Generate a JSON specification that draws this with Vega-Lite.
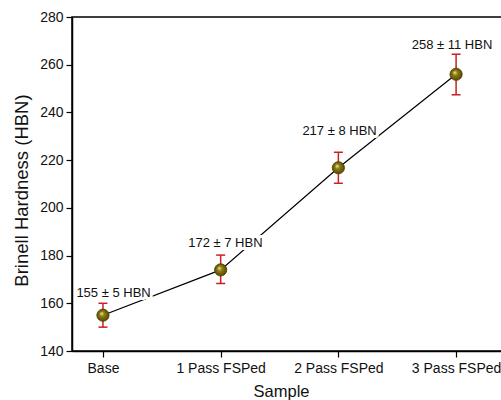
{
  "$schema": "https://vega.github.io/schema/vega-lite/v6.json",
  "width": 430,
  "height": 334,
  "autosize": {"type": "none"},
  "padding": {"left": 72, "top": 17, "right": 0, "bottom": 49},
  "background": "white",
  "config": {
    "font": "Liberation Sans",
    "view": {"stroke": "black", "strokeWidth": 1.5},
    "axis": {"domainColor": "black", "domainWidth": 1.5, "tickColor": "black", "tickWidth": 1.2, "tickSize": 6, "grid": false, "labelColor": "#111", "titleColor": "#111", "labelFont": "Liberation Sans", "titleFont": "Liberation Sans", "titleFontWeight": "normal"}
  },
  "data": {
    "values": [
      {"idx": 0, "sample": "Base", "mean": 155, "lo": 150, "hi": 160, "label": "155 ± 5 HBN", "lx": 0.09, "ly": 164.3},
      {"idx": 1, "sample": "1 Pass FSPed", "mean": 174, "lo": 168.3, "hi": 180.2, "label": "172 ± 7 HBN", "lx": 1.04, "ly": 185.3},
      {"idx": 2, "sample": "2 Pass FSPed", "mean": 216.8, "lo": 210.3, "hi": 223.3, "label": "217 ± 8 HBN", "lx": 2.01, "ly": 232.2},
      {"idx": 3, "sample": "3 Pass FSPed", "mean": 256, "lo": 247.4, "hi": 264.4, "label": "258 ± 11 HBN", "lx": 2.965, "ly": 268.3}
    ]
  },
  "encoding": {
    "x": {
      "field": "idx", "type": "quantitative",
      "scale": {"domain": [-0.263, 3.39], "nice": false, "zero": false},
      "axis": {"values": [0, 1, 2, 3], "labelExpr": "['Base','1 Pass FSPed','2 Pass FSPed','3 Pass FSPed'][datum.value]", "title": "Sample", "labelFontSize": 14, "titleFontSize": 16.5, "labelPadding": 4, "titlePadding": 8, "titleX": 209, "labelOverlap": false}
    }
  },
  "layer": [
    {
      "mark": {"type": "line", "color": "black", "strokeWidth": 1.2},
      "encoding": {
        "y": {"field": "mean", "type": "quantitative", "scale": {"domain": [140, 280], "nice": false, "zero": false},
          "axis": {"values": [140, 160, 180, 200, 220, 240, 260, 280], "title": "Brinell Hardness (HBN)", "labelFontSize": 14, "titleFontSize": 18.5, "labelPadding": 3, "titlePadding": 8, "titleY": 173}}
      }
    },
    {
      "mark": {"type": "text", "fontSize": 13, "stroke": "white", "strokeWidth": 6, "fill": "white", "strokeJoin": "round"},
      "encoding": {"x": {"field": "lx", "type": "quantitative"}, "y": {"field": "ly", "type": "quantitative"}, "text": {"field": "label"}}
    },
    {
      "mark": {"type": "text", "fontSize": 13, "color": "#111"},
      "encoding": {"x": {"field": "lx", "type": "quantitative"}, "y": {"field": "ly", "type": "quantitative"}, "text": {"field": "label"}}
    },
    {
      "mark": {"type": "rule", "color": "#c92020", "strokeWidth": 1.5},
      "encoding": {"y": {"field": "lo", "type": "quantitative"}, "y2": {"field": "hi"}}
    },
    {
      "mark": {"type": "tick", "orient": "horizontal", "color": "#c92020", "size": 9, "thickness": 1.5, "opacity": 1},
      "encoding": {"y": {"field": "lo", "type": "quantitative"}}
    },
    {
      "mark": {"type": "tick", "orient": "horizontal", "color": "#c92020", "size": 9, "thickness": 1.5, "opacity": 1},
      "encoding": {"y": {"field": "hi", "type": "quantitative"}}
    },
    {
      "mark": {"type": "point", "filled": true, "size": 150, "opacity": 1, "strokeWidth": 0.8, "stroke": "#4a3f00",
        "fill": {"gradient": "radial", "x1": 0.38, "y1": 0.35, "r1": 0, "x2": 0.5, "y2": 0.5, "r2": 0.55,
          "stops": [{"offset": 0, "color": "#f4eec0"}, {"offset": 0.35, "color": "#8f7f14"}, {"offset": 1, "color": "#4e4200"}]}},
      "encoding": {"y": {"field": "mean", "type": "quantitative"}}
    }
  ]
}
